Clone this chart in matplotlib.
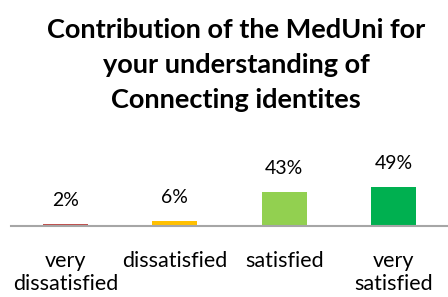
import matplotlib
matplotlib.use('Agg')
import matplotlib.pyplot as plt
import numpy as np

categories = ['very\ndissatisfied', 'dissatisfied', 'satisfied', 'very\nsatisfied']
values = [2, 6, 43, 49]
labels = ['2%', '6%', '43%', '49%']
colors = ['#C0504D', '#FFC000', '#92D050', '#00B050']

plt.rcParams['font.family'] = ['Lato', 'DejaVu Sans']

fig = plt.figure(figsize=(4.48, 2.97), dpi=100)
fig.text(0.527, 0.94, 'Contribution of the MedUni for\nyour understanding of\nConnecting identites',
         ha='center', va='top', fontsize=19.5, fontweight='bold', linespacing=1.55)

ax = fig.add_axes([0.0246, 0.239, 0.9754, 0.29])
x = np.arange(len(values))
ax.bar(x, values, width=0.41, color=colors)
for xi, v, lab in zip(x, values, labels):
    ax.annotate(lab, (xi, v), xytext=(0, 17), textcoords='offset points',
                ha='center', va='center', fontsize=14)

ax.set_xlim(-0.5, 3.5)
ax.set_ylim(0, 108)
ax.set_xticks(x)
ax.set_xticklabels(categories, fontsize=15.5, linespacing=1.2)
ax.tick_params(axis='x', length=0, pad=18)
ax.set_yticks([])
for s in ['top', 'right', 'left']:
    ax.spines[s].set_visible(False)
ax.spines['bottom'].set_color('#A6A6A6')
ax.spines['bottom'].set_linewidth(1.5)

fig.savefig('out.png', dpi=100)
